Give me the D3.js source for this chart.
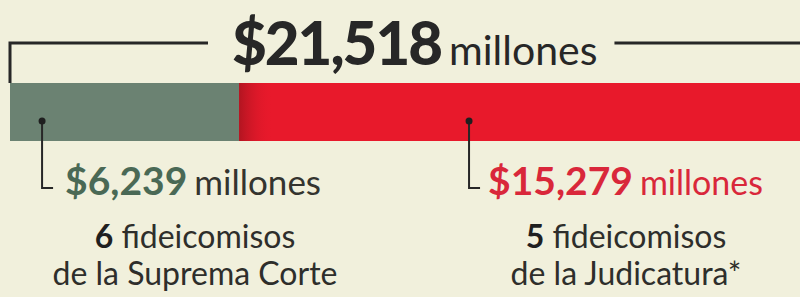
<!DOCTYPE html>
<html>
<head>
<meta charset="utf-8">
<script src="https://cdn.jsdelivr.net/npm/d3@7"></script>
<style>
  html, body { margin: 0; padding: 0; background: #f1f0dc; }
  svg { display: block; font-family: Lato, "Open Sans", sans-serif; }
</style>
</head>
<body>
<div id="chart"></div>
<script>
  // data
  var segmentNames = ['de la Suprema Corte', 'de la Judicatura*'];
  var segmentValues = [6239, 15279];
  var fideicomisos = [6, 5];
  var totalLabel = '$21,518';
  var unitLabel = 'millones';

  var barColors = ['#6b8272', '#e8192b'];
  var valueColors = ['#4a6955', '#d9273a'];
  var dark = '#272727';

  var width = 800, height = 297;
  var barTop = 83, barBottom = 141;
  // anchor of each leader line, as a share of its segment
  var leaderAt = [0.14, 0.41];
  var labelCenter = [195, 626];
  var valueOffset = [23, 19];

  var total = d3.sum(segmentValues);
  var x = d3.scaleLinear().domain([0, total]).range([10, width]);

  var stacked = [];
  var acc = 0;
  segmentValues.forEach(function(v, i) {
    stacked.push({ name: segmentNames[i], value: v, x0: acc, x1: acc + v, n: fideicomisos[i], i: i });
    acc += v;
  });

  var svg = d3.select('#chart').append('svg')
    .attr('width', width)
    .attr('height', height);

  svg.append('rect').attr('width', width).attr('height', height).attr('fill', '#f1f0dc');

  var defs = svg.append('defs');
  var grad = defs.append('linearGradient').attr('id', 'shade')
    .attr('x1', 0).attr('x2', 1).attr('y1', 0).attr('y2', 0);
  grad.append('stop').attr('offset', 0).attr('stop-color', '#a8141f').attr('stop-opacity', 0.85);
  grad.append('stop').attr('offset', 1).attr('stop-color', '#e8192b').attr('stop-opacity', 0);

  // bars
  svg.selectAll('.bar')
    .data(stacked)
    .enter().append('rect')
      .attr('class', 'bar')
      .attr('x', function(d) { return x(d.x0); })
      .attr('y', barTop)
      .attr('width', function(d) { return x(d.x1) - x(d.x0); })
      .attr('height', barBottom - barTop)
      .attr('fill', function(d) { return barColors[d.i]; });

  // dark shade where the red starts
  svg.append('rect')
    .attr('x', x(stacked[1].x0))
    .attr('y', barTop)
    .attr('width', 34)
    .attr('height', barBottom - barTop)
    .attr('fill', 'url(#shade)');

  // title
  var title = svg.append('text')
    .attr('x', 232)
    .attr('y', 65)
    .attr('fill', dark);
  title.append('tspan')
    .attr('font-weight', 900)
    .attr('font-size', 60)
    .attr('letter-spacing', -2)
    .text(totalLabel);
  title.append('tspan')
    .attr('dx', 8)
    .attr('font-weight', 400)
    .attr('font-size', 41)
    .text(unitLabel);

  var tb = title.node().getBBox();

  // bracket over the bar
  svg.append('path')
    .attr('d', 'M' + x(0) + ',' + barTop + 'V43H' + (tb.x - 24))
    .attr('fill', 'none')
    .attr('stroke', dark)
    .attr('stroke-width', 3);
  svg.append('line')
    .attr('x1', tb.x + tb.width + 17).attr('x2', width)
    .attr('y1', 43).attr('y2', 43)
    .attr('stroke', dark)
    .attr('stroke-width', 3);

  // leaders
  var leaders = svg.selectAll('.leader')
    .data(stacked)
    .enter().append('g')
      .attr('class', 'leader');
  leaders.append('path')
    .attr('d', function(d) {
      var lx = x(d.x0 + d.value * leaderAt[d.i]);
      return 'M' + lx + ',121V188H' + (lx + 11);
    })
    .attr('fill', 'none')
    .attr('stroke', dark)
    .attr('stroke-width', 2);
  leaders.append('circle')
    .attr('cx', function(d) { return x(d.x0 + d.value * leaderAt[d.i]); })
    .attr('cy', 121)
    .attr('r', 3.5)
    .attr('fill', '#1f1f1f');

  // value labels
  var vals = svg.selectAll('.value')
    .data(stacked)
    .enter().append('text')
      .attr('class', 'value')
      .attr('x', function(d) { return x(d.x0 + d.value * leaderAt[d.i]) + valueOffset[d.i]; })
      .attr('y', 195)
      .attr('fill', function(d) { return valueColors[d.i]; });
  vals.append('tspan')
    .attr('font-weight', 700)
    .attr('font-size', 39)
    .text(function(d) { return '$' + d3.format(',')(d.value); });
  vals.append('tspan')
    .attr('dx', 7)
    .attr('font-size', function(d) { return d.i === 0 ? 35 : 34; })
    .attr('fill', function(d) { return d.i === 0 ? '#34342f' : valueColors[d.i]; })
    .text(unitLabel);

  // count of fideicomisos
  var counts = svg.selectAll('.count')
    .data(stacked)
    .enter().append('text')
      .attr('class', 'count')
      .attr('x', function(d) { return labelCenter[d.i]; })
      .attr('y', 248)
      .attr('text-anchor', 'middle')
      .attr('font-size', 32)
      .attr('fill', '#2e2e2b');
  counts.append('tspan')
    .attr('font-weight', 700)
    .attr('fill', '#1f1f1f')
    .text(function(d) { return d.n; });
  counts.append('tspan')
    .text(' fideicomisos');

  svg.selectAll('.name')
    .data(stacked)
    .enter().append('text')
      .attr('class', 'name')
      .attr('x', function(d) { return labelCenter[d.i]; })
      .attr('y', 285)
      .attr('text-anchor', 'middle')
      .attr('font-size', 32)
      .attr('fill', '#2e2e2b')
      .text(function(d) { return d.name; });
</script>
</body>
</html>
